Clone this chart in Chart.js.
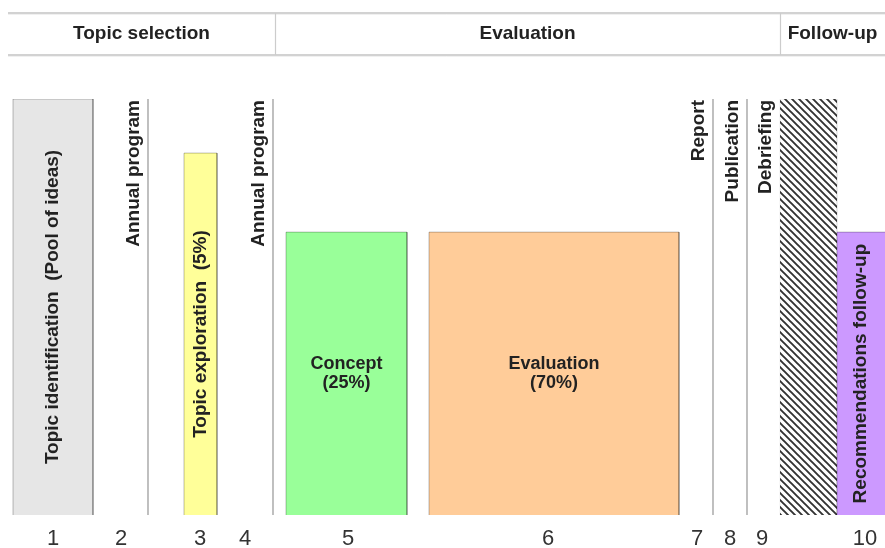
<!DOCTYPE html>
<html>
<head>
<meta charset="utf-8">
<script src="https://cdn.jsdelivr.net/npm/chart.js@4/dist/chart.umd.min.js"></script>
<style>
html,body{margin:0;padding:0;background:#fff;}
#wrap{width:885px;height:548px;position:relative;}
</style>
</head>
<body>
<div id="wrap"><canvas id="c"></canvas></div>
<script>
// ---- data (x in time units along the process, y in relative effort) ----
const xTickValues = [45, 113, 192, 237, 340, 540, 689, 722, 754, 857];
const xTickLabels = ['1', '2', '3', '4', '5', '6', '7', '8', '9', '10'];

const phaseNames  = ['Topic selection', 'Evaluation', 'Follow-up'];
const phaseStarts = [0, 267, 772];
const phaseEnds   = [267, 772, 877];

const activityLabels   = ['Topic identification  (Pool of ideas)', 'Topic exploration  (5%)', 'Concept\n(25%)', 'Evaluation\n(70%)', 'Recommendations follow-up'];
const activityStarts   = [5, 176, 278, 421, 829];
const activityEnds     = [85, 209, 399, 671, 882];
const activityHeights  = [100, 87, 68, 68, 68];
const activityColors   = ['#e6e6e6', '#ffff99', '#99ff99', '#ffcc99', '#cc99ff'];
const activityVertical = [true, true, false, false, true];

const milestoneLabels = ['Annual program', 'Annual program', 'Report', 'Publication', 'Debriefing'];
const milestoneAt     = [140, 265, 705, 739, 772];
const milestoneLine   = [true, true, true, true, false];

const waitStarts  = [772];
const waitEnds    = [829];
const waitHeights = [100];

const X_MAX = 877;
const Y_MAX = 100;

// ---- hatch pattern ----
function makeHatch() {
  const s = 7;
  const c = document.createElement('canvas');
  c.width = s; c.height = s;
  const g = c.getContext('2d');
  g.fillStyle = '#ffffff';
  g.fillRect(0, 0, s, s);
  g.strokeStyle = '#333333';
  g.lineWidth = 1.9;
  g.beginPath();
  g.moveTo(-1, -1); g.lineTo(s + 1, s + 1);
  g.moveTo(s - 1, -1); g.lineTo(s + 1, 1);
  g.moveTo(-1, s - 1); g.lineTo(1, s + 1);
  g.stroke();
  return g.createPattern(c, 'repeat');
}

function rectPoints(x0, x1, h) {
  return [{x: x0, y: 0}, {x: x0, y: h}, {x: x1, y: h}, {x: x1, y: 0}];
}

const datasets = [];
activityLabels.forEach((lab, i) => {
  datasets.push({
    label: lab,
    data: rectPoints(activityStarts[i], activityEnds[i], activityHeights[i]),
    backgroundColor: activityColors[i],
    borderColor: 'rgba(0,0,0,0.26)',
    borderWidth: 1,
    fill: 'origin',
    pointRadius: 0,
    tension: 0
  });
});
const hatch = makeHatch();
waitStarts.forEach((s, i) => {
  datasets.push({
    label: 'wait',
    data: rectPoints(s, waitEnds[i], waitHeights[i]),
    backgroundColor: hatch,
    borderColor: 'rgba(0,0,0,0.12)',
    borderWidth: 0.5,
    fill: 'origin',
    pointRadius: 0,
    tension: 0
  });
});
activityLabels.forEach((lab, i) => {
  datasets.push({
    label: lab + ' base',
    data: [{x: activityStarts[i], y: 0}, {x: activityEnds[i], y: 0}],
    borderColor: 'rgba(0,0,0,0.26)',
    borderWidth: 1,
    fill: false,
    pointRadius: 0
  });
});
milestoneAt.forEach((m, i) => {
  if (!milestoneLine[i]) return;
  datasets.push({
    label: milestoneLabels[i],
    data: [{x: m, y: 0}, {x: m, y: Y_MAX}],
    borderColor: '#b0b0b0',
    borderWidth: 1.6,
    fill: false,
    pointRadius: 0
  });
});

const FONT = '"Liberation Sans", Arial, Helvetica, sans-serif';

const labelPlugin = {
  id: 'labels',
  afterDatasetsDraw(chart) {
    const ctx = chart.ctx;
    const xs = chart.scales.x, ys = chart.scales.y;
    ctx.save();
    ctx.fillStyle = '#222';
    activityLabels.forEach((lab, i) => {
      const cx = (xs.getPixelForValue(activityStarts[i]) + xs.getPixelForValue(Math.min(activityEnds[i], X_MAX))) / 2;
      const cy = (ys.getPixelForValue(0) + ys.getPixelForValue(activityHeights[i])) / 2;
      if (activityVertical[i]) {
        ctx.save();
        ctx.font = 'bold 19px ' + FONT;
        ctx.translate(cx, cy);
        ctx.rotate(-Math.PI / 2);
        ctx.textAlign = 'center';
        ctx.textBaseline = 'middle';
        ctx.fillText(lab, 0, 0);
        ctx.restore();
      } else {
        const lines = lab.split('\n');
        ctx.font = 'bold 18px ' + FONT;
        ctx.textAlign = 'center';
        ctx.textBaseline = 'middle';
        const lh = 19;
        lines.forEach((ln, k) => {
          ctx.fillText(ln, cx, cy - (lines.length - 1) * lh / 2 + k * lh);
        });
      }
    });
    milestoneLabels.forEach((lab, i) => {
      const px = xs.getPixelForValue(milestoneAt[i]) - 9;
      const py = ys.getPixelForValue(Y_MAX) + 1;
      ctx.save();
      ctx.font = 'bold 19px ' + FONT;
      ctx.translate(px, py);
      ctx.rotate(-Math.PI / 2);
      ctx.textAlign = 'right';
      ctx.textBaseline = 'alphabetic';
      ctx.fillText(lab, 0, 0);
      ctx.restore();
    });
    ctx.restore();
  },
  afterDraw(chart) {
    const ctx = chart.ctx;
    const xs = chart.scales.x;
    const left = chart.chartArea.left, right = chart.width;
    const top = 13, bottom = 55;
    ctx.save();
    ctx.strokeStyle = '#c4c4c4';
    ctx.lineWidth = 1.5;
    ctx.beginPath();
    ctx.moveTo(left, top); ctx.lineTo(right, top);
    ctx.moveTo(left, bottom); ctx.lineTo(right, bottom);
    ctx.stroke();
    ctx.strokeStyle = 'rgba(0,0,0,0.06)';
    ctx.lineWidth = 1;
    ctx.beginPath();
    ctx.moveTo(left, top + 1.5); ctx.lineTo(right, top + 1.5);
    ctx.moveTo(left, bottom + 1.5); ctx.lineTo(right, bottom + 1.5);
    ctx.stroke();
    ctx.strokeStyle = '#cccccc';
    ctx.lineWidth = 1.2;
    ctx.beginPath();
    phaseStarts.forEach((s, i) => {
      if (i === 0) return;
      const px = Math.round(xs.getPixelForValue(s)) + 0.5;
      ctx.moveTo(px, top); ctx.lineTo(px, bottom);
    });
    ctx.stroke();
    ctx.fillStyle = '#222';
    ctx.font = 'bold 19px ' + FONT;
    ctx.textAlign = 'center';
    ctx.textBaseline = 'middle';
    phaseNames.forEach((n, i) => {
      const cx = (xs.getPixelForValue(phaseStarts[i]) + xs.getPixelForValue(phaseEnds[i])) / 2;
      ctx.fillText(n, cx, 34);
    });
    ctx.restore();
  }
};

new Chart(document.getElementById('c'), {
  type: 'line',
  data: { datasets },
  options: {
    responsive: true,
    maintainAspectRatio: false,
    animation: false,
    events: [],
    layout: { padding: { top: 99, left: 8, right: 0, bottom: 0 } },
    plugins: { legend: { display: false }, tooltip: { enabled: false } },
    scales: {
      x: {
        type: 'linear',
        min: 0,
        max: X_MAX,
        grid: { display: false, drawTicks: false },
        border: { display: false },
        afterFit(scale) { scale.height = 33; scale.paddingLeft = 0; scale.paddingRight = 0; },
        afterBuildTicks(scale) { scale.ticks = xTickValues.map(v => ({ value: v })); },
        ticks: {
          autoSkip: false,
          maxRotation: 0,
          padding: 11,
          color: '#333',
          font: { family: FONT, size: 22 },
          callback: (v, idx) => xTickLabels[idx]
        }
      },
      y: {
        type: 'linear',
        min: 0,
        max: Y_MAX,
        display: false
      }
    }
  },
  plugins: [labelPlugin]
});
</script>
</body>
</html>
